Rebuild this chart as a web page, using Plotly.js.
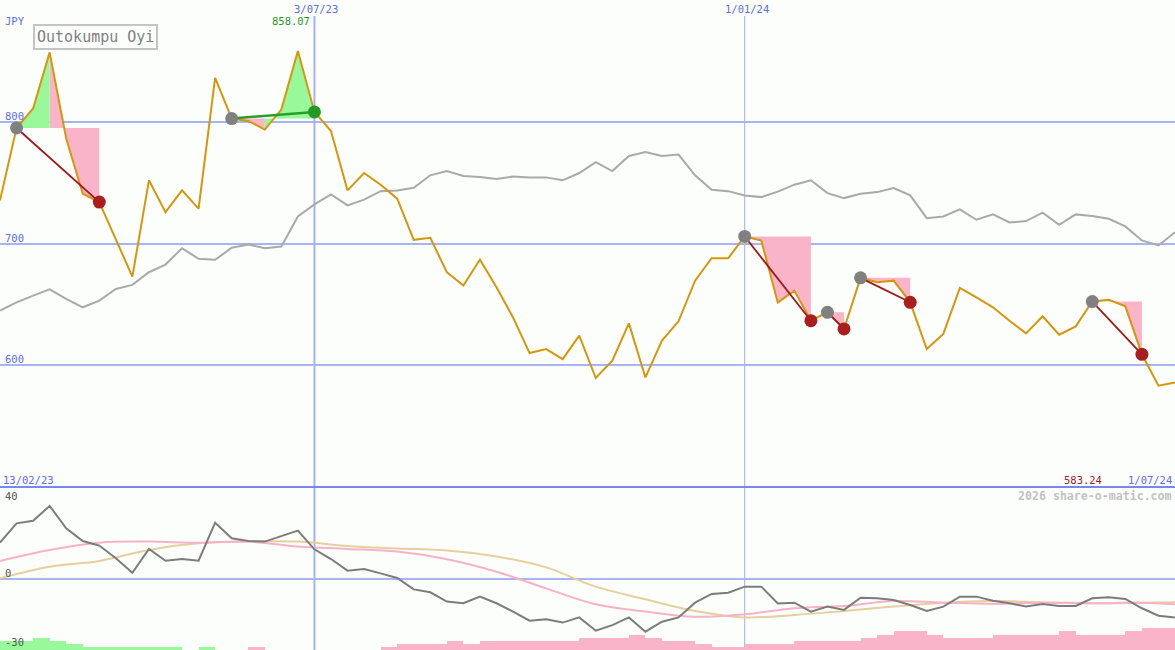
<!DOCTYPE html>
<html><head><meta charset="utf-8">
<script src="https://cdn.plot.ly/plotly-3.0.1.min.js"></script>
<style>html,body{margin:0;padding:0;background:#fcfefc;}#chart{width:1175px;height:650px;}</style>
</head><body><div id="chart"></div>
<script>
// ---- data (weekly closes, JPY) ----
const firstWeek = '2023-02-20';
const price = [735.4, 794.9, 810.9, 857.0, 786.2, 740.9, 734.0, 703.0, 672.8, 751.9,
  725.8, 743.6, 728.6, 836.0, 802.6, 800.7, 793.6, 810.0, 858.07, 808.1,
  792.4, 743.6, 757.9, 748.3, 736.8, 703.0, 704.7, 676.4, 665.4, 686.8,
  664.0, 639.3, 610.0, 613.3, 605.1, 624.3, 589.5, 603.7, 634.4, 590.0,
  620.2, 636.1, 669.5, 687.9, 687.9, 705.8, 702.5, 651.4, 661.3, 636.6,
  643.5, 629.8, 671.8, 668.2, 669.5, 651.7, 613.3, 625.7, 663.5, 655.8,
  647.6, 636.6, 626.2, 640.2, 625.1, 631.9, 652.3, 653.7, 648.4, 609.0,
  583.24, 585.8];
const benchmark = [644.9, 651.7, 657.2, 662.4, 654.5, 647.6, 653.1, 662.7, 666.0, 676.4,
  682.7, 696.1, 687.4, 686.6, 696.5, 699.2, 696.1, 697.5, 722.2, 732.1,
  740.3, 731.3, 736.0, 743.0, 743.6, 745.8, 756.0, 759.5, 755.4, 754.6,
  752.9, 755.1, 754.3, 754.3, 751.9, 757.9, 766.9, 759.5, 771.9, 775.1,
  771.9, 773.0, 756.0, 744.2, 743.0, 739.5, 738.1, 742.6, 748.3, 751.9,
  741.4, 737.3, 740.9, 742.2, 745.5, 739.5, 720.8, 722.2, 728.0, 719.5,
  723.9, 717.3, 718.4, 725.3, 715.4, 723.9, 722.5, 720.3, 714.0, 702.5,
  698.4, 709.3];
const oscillator = [17.5, 26.8, 28.0, 35.2, 24.4, 18.3, 16.1, 10.0, 3.0, 14.5,
  8.8, 9.6, 8.8, 27.1, 19.6, 18.3, 18.0, 20.7, 23.3, 14.3,
  9.6, 4.0, 4.8, 2.7, 0.5, -5.0, -6.4, -10.9, -11.7, -8.5,
  -11.7, -15.7, -20.1, -19.4, -21.0, -18.5, -24.9, -22.2, -18.5, -25.4,
  -20.6, -18.5, -11.4, -7.2, -6.6, -3.7, -3.7, -11.8, -11.4, -15.7,
  -13.3, -14.9, -9.0, -9.3, -10.1, -12.5, -15.4, -13.3, -8.5, -8.5,
  -10.5, -11.7, -13.3, -12.0, -13.0, -13.0, -9.3, -8.8, -9.6, -14.1,
  -17.7, -18.6];
const avgIdx = [0, 3, 6, 9, 12, 15, 18, 21, 24, 27, 30, 33, 36, 39, 42, 45, 48, 51, 54, 57, 60, 63, 66, 69, 71];
const avgFast = [8.7, 14.0, 17.5, 18.0, 17.5, 18.0, 15.6, 14.5, 13.2, 9.5, 3.5, -4.5, -12.2, -15.7, -18.2, -17.0, -14.1, -13.0, -10.6, -11.4, -12.0, -11.4, -11.7, -11.4, -12.2];
const avgSlow = [0.3, 5.9, 8.7, 14.0, 17.2, 18.0, 18.0, 15.9, 14.7, 13.7, 10.8, 5.6, -3.7, -9.8, -15.4, -18.5, -17.3, -15.4, -13.3, -11.4, -10.6, -11.2, -11.7, -11.4, -11.2];
const trendBars = [3,3,4,3,2,1,1,1,1,1, 1,0,1,0,0,-1,0,0,0,0, 0,0,0,-1,-2,-2,-2,-3,-2,-3,
  -3,-3,-3,-3,-3,-4,-4,-4,-5,-4, -3,-3,-2,-1,-1,-2,-2,-2,-3,-3,
  -3,-3,-4,-5,-6,-6,-5,-4,-4,-4, -5,-5,-5,-5,-6,-5,-5,-5,-6,-7, -7];
const signals = [[1, 6], [14, 19], [45, 49], [50, 51], [52, 55], [66, 69]];
const markDates = ['2023-07-03', '2024-01-01'];
const markLabels = ['3/07/23', '1/01/24'];
const title = 'Outokumpu Oyi';
const currency = 'JPY';
const priceTicks = [600, 700, 800];
const oscTicks = ['40', '0', '-30'];
const startLabel = '13/02/23', endLabel = '1/07/24';
const credit = '2026 share-o-matic.com';

// ---- build ----
function weekDates(start, n) {
  const t0 = Date.parse(start + 'T00:00:00Z'), out = [];
  for (let i = 0; i < n; i++) out.push(new Date(t0 + i * 7 * 86400000).toISOString().slice(0, 10));
  return out;
}
const dates = weekDates(firstWeek, price.length);
const WEEK = 7 * 86400000;

const PINK = '#fab4c9', GREEN = '#99f899', ORANGE = '#d6960c';
const pinkX = [], pinkY = [], greenX = [], greenY = [];
const lossX = [], lossY = [], profX = [], profY = [];
const startX = [], startY = [], endLX = [], endLY = [], endPX = [], endPY = [];
signals.forEach(([s, e]) => {
  const level = price[s];
  for (let k = s; k < e; k++) {
    const up = price[k + 1] > level;
    const X = up ? greenX : pinkX, Y = up ? greenY : pinkY;
    X.push(dates[k], dates[k], dates[k + 1], dates[k + 1], dates[k], null);
    Y.push(level, price[k], price[k + 1], level, level, null);
  }
  startX.push(dates[s]); startY.push(price[s]);
  if (price[e] > level) {
    profX.push(dates[s], dates[e], null); profY.push(price[s], price[e], null);
    endPX.push(dates[e]); endPY.push(price[e]);
  } else {
    lossX.push(dates[s], dates[e], null); lossY.push(price[s], price[e], null);
    endLX.push(dates[e]); endLY.push(price[e]);
  }
});

const traces = [
  {x: pinkX, y: pinkY, type: 'scatter', mode: 'lines', fill: 'toself', fillcolor: PINK, line: {width: 0, color: PINK}, xaxis: 'x', yaxis: 'y'},
  {x: greenX, y: greenY, type: 'scatter', mode: 'lines', fill: 'toself', fillcolor: GREEN, line: {width: 0, color: GREEN}, xaxis: 'x', yaxis: 'y'},
  {x: dates, y: benchmark, type: 'scatter', mode: 'lines', line: {color: '#a9a9a9', width: 2}, xaxis: 'x', yaxis: 'y'},
  {x: dates, y: price, type: 'scatter', mode: 'lines', line: {color: ORANGE, width: 2}, xaxis: 'x', yaxis: 'y'},
  {x: lossX, y: lossY, type: 'scatter', mode: 'lines', line: {color: '#a01818', width: 1.8}, xaxis: 'x', yaxis: 'y'},
  {x: profX, y: profY, type: 'scatter', mode: 'lines', line: {color: '#2a9e2a', width: 2.5}, xaxis: 'x', yaxis: 'y'},
  {x: startX, y: startY, type: 'scatter', mode: 'markers', marker: {color: '#808080', size: 13}, xaxis: 'x', yaxis: 'y'},
  {x: endLX, y: endLY, type: 'scatter', mode: 'markers', marker: {color: '#aa1e1e', size: 13}, xaxis: 'x', yaxis: 'y'},
  {x: endPX, y: endPY, type: 'scatter', mode: 'markers', marker: {color: '#249a24', size: 13}, xaxis: 'x', yaxis: 'y'},
  // lower panel
  {x: dates.slice(0, trendBars.length), y: trendBars.map(Math.abs), type: 'bar', offset: 0, width: WEEK,
   marker: {color: trendBars.map(v => v > 0 ? GREEN : PINK), line: {width: 0}}, xaxis: 'x', yaxis: 'y2'},
  {x: avgIdx.map(i => dates[i]), y: avgSlow, type: 'scatter', mode: 'lines', line: {color: '#e5cf9c', width: 2, shape: 'spline'}, xaxis: 'x', yaxis: 'y3'},
  {x: avgIdx.map(i => dates[i]), y: avgFast, type: 'scatter', mode: 'lines', line: {color: '#f8b2c8', width: 2, shape: 'spline'}, xaxis: 'x', yaxis: 'y3'},
  {x: dates, y: oscillator, type: 'scatter', mode: 'lines', line: {color: '#7c7c7c', width: 2}, xaxis: 'x', yaxis: 'y3'}
];

const H = 650, SPLIT = 163 / H;
const py = px => 1 - px / H;
const MONO = 'DejaVu Sans Mono';
const BLUE = '#5b6cf0';
const ann = [];
function label(text, o) {
  ann.push(Object.assign({text: text, showarrow: false, borderpad: 0, borderwidth: 0,
    font: {family: MONO, size: 10.5, color: BLUE}}, o));
}
label(currency, {xref: 'paper', x: 0, xanchor: 'left', xshift: 5, yref: 'paper', y: py(21), yanchor: 'middle'});
priceTicks.forEach(v => label(String(v), {xref: 'paper', x: 0, xanchor: 'left', xshift: 5, yref: 'y', y: v, yanchor: 'middle', yshift: 6}));
markDates.forEach((d, i) => label(markLabels[i], {xref: 'x', x: d, xanchor: 'center', xshift: 2, yref: 'paper', y: py(9), yanchor: 'middle'}));
label(startLabel, {xref: 'paper', x: 0, xanchor: 'left', xshift: 3, yref: 'paper', y: py(480), yanchor: 'middle'});
label(endLabel, {xref: 'paper', x: 1, xanchor: 'right', xshift: -3, yref: 'paper', y: py(480), yanchor: 'middle'});
const iMax = price.indexOf(Math.max(...price)), iMin = price.indexOf(Math.min(...price));
label(price[iMax].toFixed(2), {xref: 'x', x: dates[iMax], xanchor: 'center', xshift: -7, yref: 'paper', y: py(21), yanchor: 'middle', font: {family: MONO, size: 10.5, color: '#1f9a1f'}});
label(price[iMin].toFixed(2), {xref: 'paper', x: 1102 / 1175, xanchor: 'right', yref: 'paper', y: py(480), yanchor: 'middle', font: {family: MONO, size: 10.5, color: '#a01c1c'}});
label(credit, {xref: 'paper', x: 1, xanchor: 'right', xshift: -3, yref: 'paper', y: py(496), yanchor: 'middle', font: {family: MONO, size: 11.6, color: '#c2c2c2', weight: 'bold'}});
[[oscTicks[0], 496], [oscTicks[1], 573], [oscTicks[2], 642]].forEach(([t, p]) =>
  label(t, {xref: 'paper', x: 0, xanchor: 'left', xshift: 5, yref: 'paper', y: py(p), yanchor: 'middle', font: {family: MONO, size: 10.5, color: '#555555'}}));
ann.push({text: title, showarrow: false, xref: 'paper', x: 33 / 1175, xanchor: 'left', yref: 'paper', y: py(24), yanchor: 'top',
  bordercolor: '#c4c4c4', borderwidth: 2, borderpad: 2, bgcolor: '#fcfefc',
  font: {family: MONO, size: 15, color: '#808080'}});

const shapes = [
  {type: 'line', xref: 'x', yref: 'paper', x0: markDates[0], x1: markDates[0], y0: 0, y1: py(16), line: {color: '#a6b2f2', width: 2}, layer: 'below'},
  {type: 'line', xref: 'x', yref: 'paper', x0: markDates[1], x1: markDates[1], y0: 0, y1: py(16), line: {color: '#a4acd8', width: 1}, layer: 'below'},
  {type: 'line', xref: 'paper', yref: 'paper', x0: 0, x1: 1, y0: SPLIT, y1: SPLIT, line: {color: '#7787f0', width: 2}, layer: 'above'}
];

const layout = {
  width: 1175, height: 650, margin: {l: 0, r: 0, t: 0, b: 0, pad: 0},
  paper_bgcolor: '#fcfefc', plot_bgcolor: '#fcfefc', showlegend: false,
  xaxis: {type: 'date', range: [dates[0], dates[dates.length - 1]], showgrid: false, showticklabels: false, zeroline: false, showline: false, ticks: ''},
  yaxis: {domain: [SPLIT, 1], range: [500, 900], tickvals: priceTicks, showticklabels: false, gridcolor: '#a6b4f2', gridwidth: 2, zeroline: false, ticks: ''},
  yaxis2: {domain: [0, SPLIT], range: [0, 52.6], showgrid: false, showticklabels: false, zeroline: false, ticks: ''},
  yaxis3: {overlaying: 'y2', range: [-34.2, 44.3], tickvals: [0], showticklabels: false, gridcolor: '#a6b4f2', gridwidth: 2, zeroline: false, ticks: ''},
  bargap: 0, shapes: shapes, annotations: ann
};
Plotly.newPlot('chart', traces, layout, {staticPlot: true, displayModeBar: false});
</script></body></html>
